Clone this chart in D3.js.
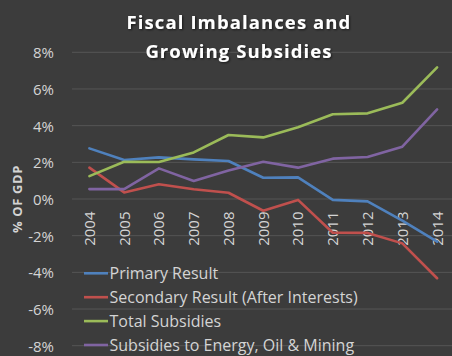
<!DOCTYPE html>
<html>
<head>
<meta charset="utf-8">
<script src="https://cdn.jsdelivr.net/npm/d3@7"></script>
<style>
  html, body { margin: 0; padding: 0; background: #3c3c3c; }
  svg { display: block; }
</style>
</head>
<body>
<svg id="chart" width="452" height="356"></svg>
<script>
// Fiscal balance and subsidy series, % of GDP
const years = ["2004","2005","2006","2007","2008","2009","2010","2011","2012","2013","2014"];
const primaryResult = [2.76, 2.13, 2.27, 2.16, 2.07, 1.16, 1.18, -0.05, -0.13, -1.18, -2.33];
const secondaryResult = [1.71, 0.36, 0.80, 0.53, 0.34, -0.64, -0.05, -1.84, -1.85, -2.42, -4.32];
const totalSubsidies = [1.25, 2.03, 2.02, 2.54, 3.49, 3.36, 3.91, 4.62, 4.67, 5.25, 7.18];
const energySubsidies = [0.54, 0.54, 1.67, 0.98, 1.56, 2.03, 1.71, 2.20, 2.29, 2.85, 4.89];
const yTicks = [-8, -6, -4, -2, 0, 2, 4, 6, 8];
const seriesNames = ["Primary Result", "Secondary Result (After Interests)", "Total Subsidies", "Subsidies to Energy, Oil & Mining"];
const seriesColors = ["#4f81bd", "#c0504d", "#9bbb59", "#8064a2"];

const series = [primaryResult, secondaryResult, totalSubsidies, energySubsidies].map((vals, i) => ({
  name: seriesNames[i], color: seriesColors[i], values: vals
}));

const svg = d3.select("#chart");
const W = 452, H = 356;
const plotLeft = 72, plotRight = 454.5, plotTop = 52.3, plotBottom = 345.7;
const font = "'Open Sans', sans-serif";

svg.append("rect").attr("width", W).attr("height", H).attr("fill", "#3c3c3c");

const x = d3.scaleBand().domain(years).range([plotLeft, plotRight]).paddingInner(0).paddingOuter(0);
const y = d3.scaleLinear().domain([-8, 8]).range([plotBottom, plotTop]);

// horizontal gridlines
svg.append("g").selectAll("line").data(yTicks).join("line")
  .attr("x1", plotLeft).attr("x2", W)
  .attr("y1", d => y(d)).attr("y2", d => y(d))
  .attr("stroke", "#555555").attr("stroke-width", 1);

// y axis labels
const yAxis = d3.axisLeft(y).tickValues(yTicks).tickSize(0).tickPadding(0)
  .tickFormat(d => d + "%");
const gy = svg.append("g").attr("transform", `translate(${54},0)`).call(yAxis);
gy.select(".domain").remove();
gy.selectAll("text")
  .attr("fill", "#d4d4d4").attr("font-family", font).attr("font-size", 15)
  .attr("dy", "0.36em");

// y axis title
svg.append("text")
  .attr("transform", `translate(21.5,${y(0)}) rotate(-90)`)
  .attr("text-anchor", "middle")
  .attr("fill", "#d4d4d4").attr("font-family", font).attr("font-size", 13)
  .attr("font-weight", "bold").attr("letter-spacing", 0.6)
  .text("% OF GDP");

// category labels, rotated, hanging below the zero line
const xAxis = d3.axisBottom(x).tickSize(0).tickPadding(0);
const gx = svg.append("g").attr("transform", `translate(0,${y(0)})`).call(xAxis);
gx.select(".domain").remove();
gx.selectAll("text")
  .attr("fill", "#d4d4d4").attr("font-family", font).attr("font-size", 15)
  .attr("text-anchor", "end")
  .attr("transform", "rotate(-90)")
  .attr("x", -12.5).attr("y", 0).attr("dy", "0.36em");

// series lines
const line = d3.line()
  .x((d, i) => x(years[i]) + x.bandwidth() / 2)
  .y(d => y(d));

svg.append("g").selectAll("path").data(series).join("path")
  .attr("d", d => line(d.values))
  .attr("fill", "none")
  .attr("stroke", d => d.color)
  .attr("stroke-width", 2.6)
  .attr("stroke-linejoin", "round")
  .attr("stroke-linecap", "round");

// legend
const legend = svg.append("g").selectAll("g").data(series).join("g")
  .attr("transform", (d, i) => `translate(84,${273.3 + i * 23.9})`);
legend.append("line")
  .attr("x1", 0).attr("x2", 24).attr("y1", 0).attr("y2", 0)
  .attr("stroke", d => d.color).attr("stroke-width", 2.6);
legend.append("text")
  .attr("x", 25.5).attr("dy", "0.36em")
  .attr("fill", "#d4d4d4").attr("font-family", font).attr("font-size", 16)
  .text(d => d.name);

// title with soft shadow
const defs = svg.append("defs");
const f = defs.append("filter").attr("id", "shadow").attr("x", "-10%").attr("y", "-30%")
  .attr("width", "120%").attr("height", "160%");
f.append("feDropShadow").attr("dx", 1).attr("dy", 1).attr("stdDeviation", 1)
  .attr("flood-color", "#000").attr("flood-opacity", 0.6);

const title = svg.append("text")
  .attr("text-anchor", "middle")
  .attr("fill", "#ffffff").attr("font-family", font).attr("font-size", 18.5)
  .attr("font-weight", "bold").attr("letter-spacing", 1.1)
  .attr("filter", "url(#shadow)");
title.append("tspan").attr("x", 239).attr("y", 28.5).text("Fiscal Imbalances and");
title.append("tspan").attr("x", 239).attr("y", 57.5).text("Growing Subsidies");
</script>
</body>
</html>
